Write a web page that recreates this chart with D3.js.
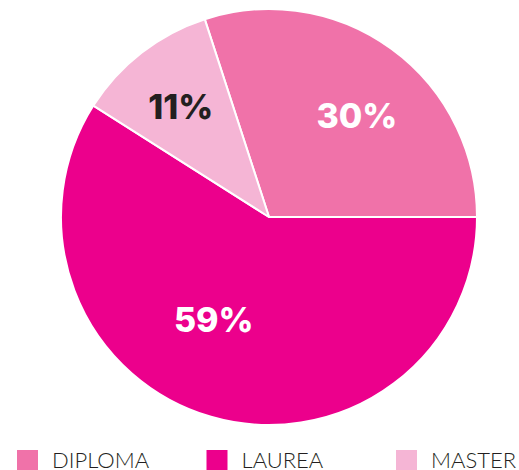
<!DOCTYPE html>
<html>
<head>
  <meta charset="utf-8">
  <script src="https://d3js.org/d3.v7.min.js"></script>
  <style>
    body { margin: 0; background: #fff; }
    text { font-family: Inter, "Noto Sans", sans-serif; }
  </style>
</head>
<body>
  <div id="container"></div>
  <script>
    var w = 519,
        h = 470;

    var categories = ["DIPLOMA", "LAUREA", "MASTER"];
    var values = [30, 59, 11];
    var colors = ["#f072a9", "#ec008c", "#f5b5d5"];
    var labelColors = ["#ffffff", "#ffffff", "#231f20"];

    var cx = 269, cy = 217, r = 208;

    // hand placement of the % labels: angle nudge (deg) and distance from centre
    var labelNudge = [5, 12, -1];
    var labelDist = [134, 117, 141];

    var svg = d3.select("#container").append("svg")
        .attr("width", w)
        .attr("height", h);

    // first slice starts a bit left of 12 o'clock so Diploma ends at 3 o'clock
    var start = -values[0] / 100 * 2 * Math.PI + Math.PI / 2;
    var pie = d3.pie().sort(null)
        .startAngle(start)
        .endAngle(start + 2 * Math.PI);

    var arcs = pie(values);
    var arc = d3.arc().innerRadius(0).outerRadius(r);

    var g = svg.append("g").attr("transform", "translate(" + cx + "," + cy + ")");

    g.selectAll("path")
        .data(arcs)
      .enter().append("path")
        .attr("d", arc)
        .attr("fill", function(d, i) { return colors[i]; })
        .style("stroke", "#fff")
        .style("stroke-width", 2)
        .style("stroke-linejoin", "round");

    g.selectAll("text.pct")
        .data(arcs)
      .enter().append("text")
        .attr("class", "pct")
        .attr("transform", function(d, i) {
          var a = (d.startAngle + d.endAngle) / 2 + labelNudge[i] * Math.PI / 180;
          return "translate(" + (labelDist[i] * Math.sin(a)) + "," + (-labelDist[i] * Math.cos(a)) + ")";
        })
        .attr("text-anchor", "middle")
        .attr("dy", "0.36em")
        .attr("fill", function(d, i) { return labelColors[i]; })
        .style("font-size", "34px")
        .style("font-weight", 800)
        .text(function(d) { return d.data + "%"; });

    // legend
    var legendX = d3.scalePoint().domain(categories).range([17, 396]);

    var lg = svg.selectAll("g.legend")
        .data(categories)
      .enter().append("g")
        .attr("class", "legend")
        .attr("transform", function(d) { return "translate(" + legendX(d) + ",449)"; });

    lg.append("rect")
        .attr("y", 1)
        .attr("width", 21)
        .attr("height", 21)
        .attr("fill", function(d, i) { return colors[i]; });

    lg.append("text")
        .attr("x", 35)
        .attr("y", 19)
        .attr("fill", "#231f20")
        .style("font-family", "Lato, 'Open Sans', sans-serif")
        .style("font-weight", 300)
        .style("font-size", "22px")
        .text(function(d) { return d; });
  </script>
</body>
</html>
